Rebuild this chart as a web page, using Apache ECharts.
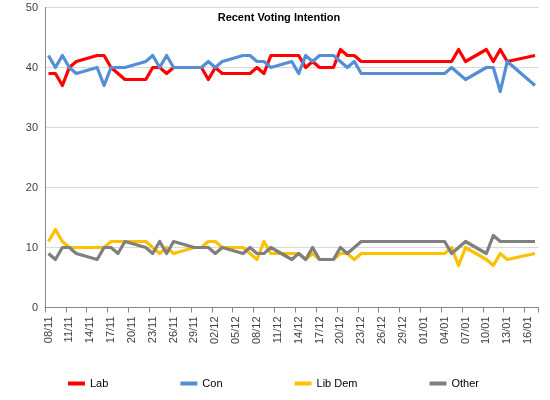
<!DOCTYPE html>
<html>
<head>
<meta charset="utf-8">
<script src="https://cdn.jsdelivr.net/npm/echarts@6/dist/echarts.min.js"></script>
<style>
html,body{margin:0;padding:0;background:#fff;}
#chart{width:550px;height:400px;}
</style>
</head>
<body>
<div id="chart"></div>
<script>
// All calendar days on the axis (08/11 .. 17/01)
var categories = [
 '08/11','09/11','10/11','11/11','12/11','13/11','14/11','15/11','16/11','17/11','18/11','19/11','20/11','21/11','22/11','23/11','24/11','25/11','26/11','27/11','28/11','29/11','30/11',
 '01/12','02/12','03/12','04/12','05/12','06/12','07/12','08/12','09/12','10/12','11/12','12/12','13/12','14/12','15/12','16/12','17/12','18/12','19/12','20/12','21/12','22/12','23/12','24/12','25/12','26/12','27/12','28/12','29/12','30/12','31/12',
 '01/01','02/01','03/01','04/01','05/01','06/01','07/01','08/01','09/01','10/01','11/01','12/01','13/01','14/01','15/01','16/01','17/01'
];
// Poll dates
var pollDates = [
 '08/11','09/11','10/11','11/11','12/11','15/11','16/11','17/11','18/11','19/11','22/11','23/11','24/11','25/11','26/11','29/11','30/11',
 '01/12','02/12','03/12','06/12','07/12','08/12','09/12','10/12','13/12','14/12','15/12','16/12','17/12','19/12','20/12','21/12','22/12','23/12',
 '04/01','05/01','06/01','07/01','10/01','11/01','12/01','13/01','17/01'
];
var lab = [39,39,37,40,41,42,42,40,39,38,38,40,40,39,40,40,40,38,40,39,39,39,40,39,42,42,42,40,41,40,40,43,42,42,41,41,41,43,41,43,41,43,41,42];
var con = [42,40,42,40,39,40,37,40,40,40,41,42,40,42,40,40,40,41,40,41,42,42,41,41,40,41,39,42,41,42,42,41,40,41,39,39,40,39,38,40,40,36,41,37];
var libDem = [11,13,11,10,10,10,10,11,11,11,11,10,9,10,9,10,10,11,11,10,10,9,8,11,9,9,9,8,9,8,8,9,9,8,9,9,10,7,10,8,7,9,8,9];
var other = [9,8,10,10,9,8,10,10,9,11,10,9,11,9,11,10,10,10,9,10,9,10,9,9,10,8,9,8,10,8,8,10,9,10,11,11,9,10,11,9,12,11,11,11];
var yTicks = [0,10,20,30,40,50];

function pairs(vals){ return pollDates.map(function(d,i){ return [d, vals[i]]; }); }

var chart = echarts.init(document.getElementById('chart'), null, {renderer:'canvas'});
var font = 'Liberation Sans, Arial, sans-serif';
function mk(name, vals, color){
  return {name:name, type:'line', data:pairs(vals), showSymbol:false, symbol:'none',
    lineStyle:{color:color, width:3.2, join:'round'}, itemStyle:{color:color}, animation:false};
}
chart.setOption({
  animation:false,
  title:{text:'Recent Voting Intention', left:274, textAlign:'center', top:7,
    textStyle:{fontFamily:font, fontSize:11, fontWeight:'bold', color:'#000'}},
  grid:{left:45, right:11.5, top:7.5, bottom:92.5, containLabel:false},
  xAxis:{type:'category', data:categories, boundaryGap:true,
    axisLine:{lineStyle:{color:'#868686', width:1}},
    axisTick:{show:true, interval:2, length:5, lineStyle:{color:'#868686'}},
    axisLabel:{interval:2, rotate:90, margin:9, fontFamily:font, fontSize:11, color:'#404040'},
    splitLine:{show:false}},
  yAxis:{type:'value', min:yTicks[0], max:yTicks[yTicks.length-1], interval:10,
    axisLine:{show:true, lineStyle:{color:'#868686'}},
    axisTick:{show:false},
    axisLabel:{margin:7, fontFamily:font, fontSize:11, color:'#404040'},
    splitLine:{lineStyle:{color:'#d9d9d9', width:1}}},
  legend:{left:63, top:373, itemGap:72, itemWidth:17, itemHeight:4, icon:'rect',
    textStyle:{fontFamily:font, fontSize:11, color:'#000'},
    data:['Lab','Con','Lib Dem','Other']},
  series:[
    mk('Lab', lab, '#FF0000'),
    mk('Con', con, '#558ED5'),
    mk('Lib Dem', libDem, '#FFC000'),
    mk('Other', other, '#7F7F7F')
  ]
});
</script>
</body>
</html>
